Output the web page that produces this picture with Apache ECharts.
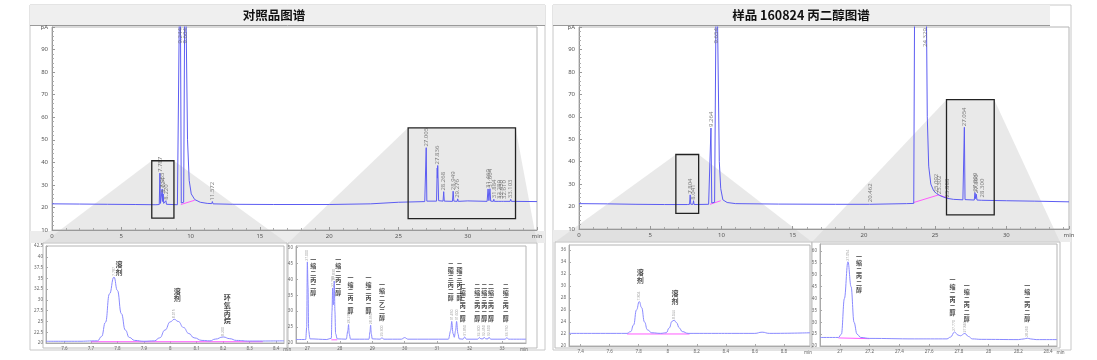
<!DOCTYPE html>
<html><head><meta charset="utf-8">
<script src="https://cdn.jsdelivr.net/npm/echarts@6/dist/echarts.min.js"></script>
<style>html,body{margin:0;padding:0;background:#fff}#c{width:1097px;height:360px}</style>
</head><body><div id="c"></div>
<script>
// ================= DATA =================
const refTitle = '对照品图谱';
const smpTitle = '样品 160824 丙二醇图谱';

// reference (对照品) full chromatogram: [min, pA]
const refTrace = [[0,21.6],[2,21.5],[4,21.4],[6,21.3],[7.5,21.2],[7.74,21.3],[7.787,35.2],[7.83,21.8],[7.92,21.8],[7.955,28.2],[7.99,22.6],[8.024,26.0],[8.06,21.8],[8.18,21.5],[8.22,23.0],[8.26,21.4],[9.05,21.2],[9.16,21.6],[9.244,140],[9.33,22.0],[9.5,22.3],[9.604,140],[9.78,50],[9.9,32],[10.05,26],[10.3,23.5],[10.7,22.3],[11.2,21.8],[11.53,21.7],[11.572,22.6],[11.62,21.6],[13,21.4],[16,21.3],[20,21.3],[23,21.6],[25,22.3],[26.9,22.6],[26.97,22.7],[27.005,46.5],[27.05,22.8],[27.75,22.8],[27.8,37.5],[27.815,33],[27.836,38.6],[27.9,23],[28.22,22.8],[28.268,27.0],[28.31,22.8],[28.9,22.7],[28.949,27.2],[29.0,22.8],[29.24,22.7],[29.276,23.8],[29.32,22.7],[30,22.9],[31.4,22.7],[31.469,28.2],[31.53,23],[31.604,28.3],[31.66,22.8],[31.85,22.7],[31.884,23.6],[31.92,22.7],[32.25,22.7],[32.28,23.3],[32.32,22.7],[32.42,22.7],[32.45,23.4],[32.5,22.7],[32.58,22.7],[32.61,23.3],[32.65,22.7],[33.06,22.7],[33.103,23.6],[33.15,22.7],[35,22.6]];
const refBaseline = [[9.3,21.3],[10.3,23.2]];
const refPeakTimes   = [7.787,7.955,8.024,8.220,9.244,9.604,11.572,27.005,27.836,28.268,28.949,29.276,31.469,31.604,31.884,32.280,32.450,32.610,33.103];
const refPeakHeights = [35.2,28.2,26.0,23.0,140,140,22.6,46.5,38.6,27.0,27.2,23.8,28.2,28.3,23.6,23.3,23.4,23.3,23.6];

// sample (样品) full chromatogram
const smpTrace = [[0,21.3],[2,21.2],[4,21.0],[6,20.9],[7.6,20.9],[7.76,21.0],[7.804,25.2],[7.85,21.0],[8.0,21.0],[8.041,22.6],[8.08,20.9],[9.1,21.0],[9.2,21.5],[9.264,55],[9.32,21.6],[9.52,21.9],[9.654,140],[9.85,40],[9.95,28],[10.1,23],[10.4,21.8],[11,21.3],[14,21.1],[18,21.0],[20.4,21.0],[20.462,21.5],[20.52,21.0],[23,21.3],[23.5,21.4],[23.58,140],[24.35,140],[24.45,60],[24.55,38],[24.7,30],[24.9,27],[25.1,25.8],[25.3,25.0],[25.6,24.2],[25.9,23.6],[26.3,23.2],[26.95,23.0],[27.0,23.1],[27.054,55.3],[27.1,23.1],[27.75,22.9],[27.8,26.2],[27.845,23.5],[27.89,25.5],[27.94,22.9],[28.25,22.8],[28.3,23.6],[28.35,22.8],[30,22.6],[32,22.4],[34.4,22.1]];
const smpBaseline1 = [[9.2,21.0],[9.95,22.6]];
const smpBaseline2 = [[23.5,21.8],[25.25,25.2],[25.9,23.7]];
const smpPeakTimes   = [7.804,8.041,9.264,9.654,20.462,24.329,25.092,25.302,25.888,27.054,27.800,27.890,28.300];
const smpPeakHeights = [25.2,22.6,55,140,21.5,140,25.8,25.0,23.6,55.3,26.2,25.5,23.6];

// zoom boxes on the full chromatograms: [tStart, tEnd, pAlow, pAhigh]
const refBoxes = [[7.2,8.8,15.3,40.7],[25.7,33.45,15.0,55.3]];
const smpBoxes = [[6.8,8.4,17.0,43.2],[25.8,29.15,16.3,67.6]];

// insets
const ref1Trace = [[7.53,20.4],[7.65,20.4],[7.725,20.5],[7.74,21.5],[7.755,24.8],[7.77,31.4],[7.787,35.3],[7.80,32.2],[7.815,26.8],[7.83,23],[7.845,21.3],[7.865,20.6],[7.9,20.4],[7.94,20.5],[7.96,21.2],[7.98,23],[8.0,24.9],[8.015,25.5],[8.03,25],[8.05,23.6],[8.07,22.2],[8.09,21.2],[8.12,20.6],[8.15,20.5],[8.17,20.9],[8.2,21.4],[8.225,21.0],[8.25,20.6],[8.3,20.45],[8.43,20.5]];
const ref1Base = [[7.7,20.3],[8.35,20.3]];
const ref1PeakTimes = [7.787,8.015,8.200];
const ref1PeakHeights = [35.3,25.5,21.4];
const ref1Names = ['溶剂','溶剂','环氧丙烷'];

const ref2Trace = [[26.65,21.1],[26.95,21.1],[26.98,25],[27.0,45.5],[27.02,38],[27.04,24],[27.08,21.3],[27.6,21.1],[27.74,21.5],[27.76,30],[27.78,37.3],[27.8,32],[27.81,34],[27.83,39.5],[27.85,30],[27.87,23],[27.92,21.3],[28.2,21.2],[28.25,24],[28.27,25.8],[28.29,23],[28.33,21.2],[28.9,21.2],[28.93,23.5],[28.95,25.6],[28.97,23],[29.0,21.3],[29.25,21.2],[29.3,21.7],[29.35,21.2],[29.9,21.2],[30.0,21.7],[30.1,21.2],[31.35,21.2],[31.42,24],[31.45,26.8],[31.49,23],[31.53,21.8],[31.57,24],[31.6,26.8],[31.64,23],[31.68,21.3],[31.8,21.2],[31.85,21.9],[31.9,21.2],[32.25,21.2],[32.3,21.7],[32.35,21.3],[32.42,21.3],[32.45,21.8],[32.5,21.3],[32.57,21.3],[32.6,21.8],[32.65,21.2],[33.1,21.2],[33.15,21.7],[33.2,21.2],[33.74,21.2]];
const ref2Base = [[27.74,21.0],[27.92,21.0]];
const ref2PeakTimes = [27.0,27.78,27.83,28.27,28.95,29.3,31.45,31.6,31.85,32.3,32.45,32.6,33.15];
const ref2PeakHeights = [45.5,37.3,39.5,25.8,25.6,21.7,26.8,26.8,21.9,21.7,21.8,21.8,21.7];
const ref2NameTimes = [27.0,27.83,28.27,28.95,29.3,31.45,31.6,31.85,32.3,32.45,32.6,33.15];
const ref2Names = ['一缩二丙二醇','一缩二丙二醇','一缩二丙二醇','一缩二丙二醇','一缩二乙二醇','二缩三丙二醇','二缩三丙二醇','二缩三丙二醇','二缩三丙二醇','二缩三丙二醇','二缩三丙二醇','二缩三丙二醇'];

const smp1Trace = [[7.32,22.1],[7.72,22.1],[7.745,22.4],[7.765,23.5],[7.785,26],[7.804,27.4],[7.82,26.4],[7.84,24],[7.86,22.7],[7.89,22.2],[7.95,22.1],[7.99,22.2],[8.01,23],[8.03,24.1],[8.044,24.3],[8.06,23.9],[8.08,23],[8.1,22.4],[8.14,22.1],[8.6,22.1],[8.65,22.3],[8.7,22.1],[8.98,22.2]];
const smp1Base = [[7.72,22.0],[8.15,22.0]];
const smp1PeakTimes = [7.804,8.044];
const smp1PeakHeights = [27.4,24.3];
const smp1Names = ['溶剂','溶剂'];

const smp2Trace = [[26.866,23.6],[26.99,23.6],[27.01,25],[27.03,40],[27.054,55.5],[27.075,45],[27.095,30],[27.115,25],[27.14,23.6],[27.2,23.2],[27.5,23.0],[27.72,23.0],[27.745,23.8],[27.77,25.9],[27.795,24.6],[27.81,24.3],[27.84,25.3],[27.865,24],[27.89,23],[27.95,22.8],[28.2,22.7],[28.24,23.0],[28.26,23.3],[28.28,23.0],[28.32,22.7],[28.46,22.7]];
const smp2Base = [[26.99,23.4],[27.2,23.1]];
const smp2PeakTimes = [27.054,27.77,27.84,28.26];
const smp2PeakHeights = [55.5,25.9,25.3,23.3];
const smp2Names = ['一缩二丙二醇','一缩二丙二醇','一缩二丙二醇','一缩二丙二醇'];

// tick labels
const ref1XTicks = [7.6,7.7,7.8,7.9,8,8.1,8.2,8.3,8.4];
const ref1YTicks = [20,22.5,25,27.5,30,32.5,35,37.5,40,42.5];
const ref2XTicks = [27,28,29,30,31,32,33];
const ref2YTicks = [20,25,30,35,40,45,50];
const smp1XTicks = [7.4,7.6,7.8,8,8.2,8.4,8.6,8.8];
const smp1YTicks = [20,22,24,26,28,30,32,34,36];
const smp2XTicks = [27,27.2,27.4,27.6,27.8,28,28.2,28.4];
const smp2YTicks = [20,25,30,35,40,45,50,55,60];

// ================= LAYOUT =================
const GRIDS = [
  {left:52, top:27, width:485, height:203},   // 0 ref main
  {left:579, top:27, width:490, height:202},  // 1 smp main
  {left:46, top:246, width:238, height:97},   // 2 ref inset 1
  {left:296, top:246, width:230, height:97},  // 3 ref inset 2
  {left:569, top:245, width:241, height:101}, // 4 smp inset 1
  {left:820, top:244, width:237, height:102}  // 5 smp inset 2
];
const RANGES = [
  {x:[0,35], y:[10,100]},
  {x:[0,34.4], y:[10,100]},
  {x:[7.53,8.43], y:[20,42.5]},
  {x:[26.65,33.74], y:[20,50.5]},
  {x:[7.32,8.98], y:[20,36.8]},
  {x:[26.866,28.46], y:[20,63]}
];
const FRAMES = [[43,243,244,105],[288,243,249,105],[555,242,257,106],[812,242,248,106]];
// label column tops (pA) and pixel nudges for the compound names
const ref1NameTops = [39.1,32.9,31.4], ref1Nudge = [5,3,4];
const ref2NameTops = [47.3,47.3,41.5,41.5,39.4,45.7,45.7,38.9,38.9,38.9,38.9,38.9];
const ref2Nudge = [6,4,2,-2,0,-1,3,-2,-2,0,2,-1];
const smp1NameTops = [32.9,29.4], smp1Nudge = [1,1];
const smp2NameTops = [59.2,49.2,47,47], smp2Nudge = [11,-2,2,0];

const BLUE = '#5c5cf2', LBLUE = '#8a8aff', PINK = '#ff5cff';
const FONT = '"Noto Sans","Noto Sans CJK SC",sans-serif';

const chart = echarts.init(document.getElementById('c'), null, {width:1097, height:360});

function gridOpt(g){ return Object.assign({show:true, borderColor:'#b4b4b4', borderWidth:1, backgroundColor:'transparent', containLabel:false, outerBoundsMode:'none'}, g); }

function mainX(i){ const r=RANGES[i]; return {gridIndex:i, type:'value', min:r.x[0], max:r.x[1], interval:5,
  axisLine:{lineStyle:{color:'#999'}}, axisTick:{inside:true,length:3,lineStyle:{color:'#999'}},
  minorTick:{show:true,splitNumber:5,length:2,lineStyle:{color:'#aaa'}},
  axisLabel:{fontSize:6,color:'#555',margin:3,formatter:v=>v>30?'min':v}, splitLine:{show:false}}; }
function mainY(i){ const r=RANGES[i]; return {gridIndex:i, type:'value', min:r.y[0], max:r.y[1], interval:10,
  axisLine:{show:true,lineStyle:{color:'#999'}}, axisTick:{show:true,inside:true,length:3,lineStyle:{color:'#999'}},
  minorTick:{show:true,splitNumber:5,length:2,lineStyle:{color:'#aaa'}},
  axisLabel:{fontSize:6,color:'#555',margin:4,formatter:v=>v===100?'pA':v}, splitLine:{show:false}}; }
function insetX(i,ticks){ const r=RANGES[i]; return {gridIndex:i, type:'value', min:r.x[0], max:r.x[1],
  axisLine:{lineStyle:{color:'#aaa'}}, axisTick:{inside:true,length:2,customValues:ticks,lineStyle:{color:'#aaa'}},
  axisLabel:{fontSize:4.5,color:'#666',margin:3,customValues:ticks,formatter:v=>String(v)},
  name:'min', nameLocation:'end', nameGap:-6, nameTextStyle:{fontSize:4.5,color:'#666',verticalAlign:'top',padding:[4,0,0,0]},
  splitLine:{show:false}}; }
function insetY(i,ticks){ const r=RANGES[i]; return {gridIndex:i, type:'value', min:r.y[0], max:r.y[1],
  axisLine:{show:true,lineStyle:{color:'#aaa'}}, axisTick:{show:true,inside:true,length:2,customValues:ticks,lineStyle:{color:'#aaa'}},
  axisLabel:{fontSize:4.5,color:'#666',margin:3,customValues:ticks,formatter:v=>String(v)}, splitLine:{show:false}}; }

function line(i,data,color,smooth,z){ return {type:'line', xAxisIndex:i, yAxisIndex:i, data, showSymbol:false, symbol:'none',
  smooth:smooth||false, smoothMonotone:'x', lineStyle:{color, width:1}, z:z||3, clip:true, silent:true}; }

function rtLabels(i,times,heights,size,color){
  const top = RANGES[i].y[1];
  return {type:'scatter', xAxisIndex:i, yAxisIndex:i, symbolSize:0.1, itemStyle:{color:'rgba(0,0,0,0)'}, silent:true, z:6,
    data: times.map((t,k)=>{ const off = heights[k] > top*0.95;
      return {value:[t, off ? top*0.995 : heights[k]], label:{position: off?'inside':'top', align: off?'right':'left', distance:1}}; }),
    label:{show:true, rotate:90, fontSize:size, color:color, verticalAlign:'middle', fontFamily:FONT,
      formatter:p=>times[p.dataIndex].toFixed(3)}};
}
function nameLabels(i,times,names,tops,nudges,size){
  return {type:'scatter', xAxisIndex:i, yAxisIndex:i, symbolSize:0.1, itemStyle:{color:'rgba(0,0,0,0)'}, silent:true, z:7,
    data: times.map((t,k)=>({value:[t,tops[k]], label:{offset:[nudges[k],0]}})),
    label:{show:true, position:'inside', align:'center', verticalAlign:'top', fontSize:size, lineHeight:size+0.6,
      fontWeight:'bold', color:'#111', fontFamily:'"Noto Sans CJK SC",sans-serif',
      formatter:p=>names[p.dataIndex].split('').join('\n')}};
}

const graphics = [
  {type:'rect', shape:{x:30,y:5,width:515,height:345}, style:{fill:'#fff',stroke:'#c8c8c8'}, z:-30},
  {type:'rect', shape:{x:30,y:5,width:515,height:20}, style:{fill:'#efefef'}, z:-29},
  {type:'line', shape:{x1:30,y1:25.5,x2:545,y2:25.5}, style:{stroke:'#9a9a9a'}, z:-29},
  {type:'rect', shape:{x:30,y:231,width:515,height:12}, style:{fill:'#ececec'}, z:-29},
  {type:'rect', shape:{x:553,y:5,width:518,height:345}, style:{fill:'#fff',stroke:'#c8c8c8'}, z:-30},
  {type:'rect', shape:{x:553,y:5,width:497,height:20}, style:{fill:'#efefef'}, z:-29},
  {type:'line', shape:{x1:553,y1:25.5,x2:1050,y2:25.5}, style:{stroke:'#9a9a9a'}, z:-29},
  {type:'rect', shape:{x:553,y:230,width:518,height:12}, style:{fill:'#ececec'}, z:-29},
  {type:'text', x:274, y:15, style:{text:refTitle, font:'bold 12.5px "Noto Sans CJK SC"', fill:'#111', align:'center', verticalAlign:'middle'}, z:5},
  {type:'text', x:801, y:15, style:{text:smpTitle, font:'bold 12.5px "Noto Sans CJK SC"', fill:'#111', align:'center', verticalAlign:'middle'}, z:5}
];
FRAMES.forEach(f=>graphics.push({type:'rect', shape:{x:f[0],y:f[1],width:f[2],height:f[3]}, style:{fill:'#fff',stroke:'#bdbdbd'}, z:-28}));

const option = {
  animation:false,
  textStyle:{fontFamily:FONT},
  grid: GRIDS.map(gridOpt),
  xAxis:[mainX(0),mainX(1),insetX(2,ref1XTicks),insetX(3,ref2XTicks),insetX(4,smp1XTicks),insetX(5,smp2XTicks)],
  yAxis:[mainY(0),mainY(1),insetY(2,ref1YTicks),insetY(3,ref2YTicks),insetY(4,smp1YTicks),insetY(5,smp2YTicks)],
  graphic: graphics,
  series:[
    line(0,refBaseline,PINK,false,2), line(0,refTrace,BLUE),
    rtLabels(0,refPeakTimes,refPeakHeights,6,'#666'),
    line(1,smpBaseline1,PINK,false,2), line(1,smpBaseline2,PINK,false,2), line(1,smpTrace,BLUE),
    rtLabels(1,smpPeakTimes,smpPeakHeights,6,'#666'),
    line(2,ref1Base,PINK,false,2), line(2,ref1Trace,LBLUE,0.5),
    rtLabels(2,ref1PeakTimes,ref1PeakHeights,3.5,'#888'),
    nameLabels(2,ref1PeakTimes,ref1Names,ref1NameTops,ref1Nudge,7),
    line(3,ref2Base,PINK,false,2), line(3,ref2Trace,LBLUE,0.3),
    rtLabels(3,ref2PeakTimes,ref2PeakHeights,3.5,'#888'),
    nameLabels(3,ref2NameTimes,ref2Names,ref2NameTops,ref2Nudge,6),
    line(4,smp1Base,PINK,false,2), line(4,smp1Trace,LBLUE,0.5),
    rtLabels(4,smp1PeakTimes,smp1PeakHeights,3.5,'#888'),
    nameLabels(4,smp1PeakTimes,smp1Names,smp1NameTops,smp1Nudge,7),
    line(5,smp2Base,PINK,false,2), line(5,smp2Trace,LBLUE,0.4),
    rtLabels(5,smp2PeakTimes,smp2PeakHeights,3.5,'#888'),
    nameLabels(5,smp2PeakTimes,smp2Names,smp2NameTops,smp2Nudge,6)
  ]
};
chart.setOption(option);

// magnifier boxes and projection shading, positioned through the main axes
function px(i,pt){ return chart.convertToPixel({xAxisIndex:i, yAxisIndex:i}, pt); }
const extra = [];
function addZoom(i, box, frame){
  const tl = px(i,[box[0],box[3]]), br = px(i,[box[1],box[2]]);
  extra.push({type:'polygon', shape:{points:[[tl[0],tl[1]],[br[0],tl[1]],[frame[0]+frame[2],frame[1]],[frame[0],frame[1]]]},
    style:{fill:'rgba(215,215,215,0.55)'}, z:-20, silent:true});
  extra.push({type:'rect', shape:{x:tl[0],y:tl[1],width:br[0]-tl[0],height:br[1]-tl[1]},
    style:{fill:'none',stroke:'#222',lineWidth:1.3}, z:10, silent:true});
}
addZoom(0, refBoxes[0], FRAMES[0]);
addZoom(0, refBoxes[1], FRAMES[1]);
addZoom(1, smpBoxes[0], FRAMES[2]);
addZoom(1, smpBoxes[1], FRAMES[3]);
chart.setOption({graphic: graphics.concat(extra)});
</script>
</body></html>
